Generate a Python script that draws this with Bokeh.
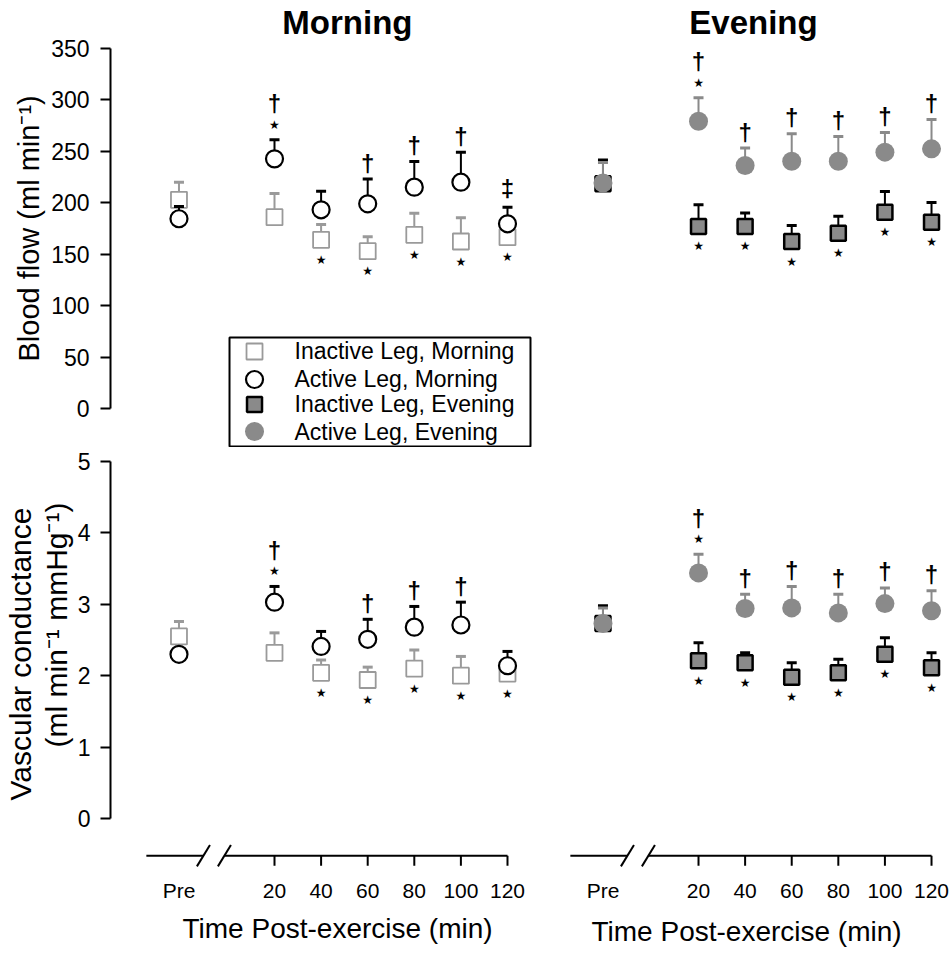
from bokeh.plotting import figure
from bokeh.models import Range1d, LinearAxis, FixedTicker, Label, Title, ColumnDataSource
from bokeh.layouts import column, row
from bokeh.embed import file_html
from bokeh.resources import INLINE
from bokeh.core.properties import value

# ---------------- data ----------------
time_labels = ["Pre", "20", "40", "60", "80", "100", "120"]
time_pos = [-21, 20, 40, 60, 80, 100, 120]

# Blood flow (ml min-1): mean and SE
bf_inactive_morning = [202.7, 185.8, 163.8, 152.8, 168.7, 162.2, 166.4]
bf_inactive_morning_se = [17, 23, 15, 14, 21, 23, 12]
bf_active_morning = [184.3, 242.5, 193.0, 198.8, 215.0, 219.8, 179.4]
bf_active_morning_se = [12, 18.5, 18, 24, 25, 29, 16]
bf_inactive_evening = [218.3, 176.8, 176.8, 162.2, 170.3, 190.7, 181.0]
bf_inactive_evening_se = [23, 21, 13, 15.6, 16.5, 20, 19]
bf_active_evening = [219.0, 279.1, 236.0, 240.2, 240.2, 249.0, 252.2]
bf_active_evening_se = [20, 22.7, 17, 26.6, 24, 19, 28.5]

# Vascular conductance (ml min-1 mmHg-1): mean and SE
vc_inactive_morning = [2.55, 2.32, 2.04, 1.94, 2.10, 2.00, 2.03]
vc_inactive_morning_se = [0.21, 0.28, 0.18, 0.18, 0.26, 0.27, 0.15]
vc_active_morning = [2.30, 3.03, 2.41, 2.51, 2.68, 2.71, 2.14]
vc_active_morning_se = [0.08, 0.22, 0.21, 0.28, 0.29, 0.32, 0.20]
vc_inactive_evening = [2.73, 2.21, 2.18, 1.98, 2.04, 2.30, 2.11]
vc_inactive_evening_se = [0.25, 0.25, 0.14, 0.20, 0.19, 0.23, 0.21]
vc_active_evening = [2.73, 3.44, 2.94, 2.95, 2.88, 3.01, 2.91]
vc_active_evening_se = [0.22, 0.26, 0.20, 0.30, 0.26, 0.22, 0.28]

# significance symbols (* vs Pre, dagger / double dagger vs inactive leg)
bf_active_morning_sig = ["", "*†", "", "†", "†", "†", "‡"]
bf_inactive_morning_sig = ["", "", "*", "*", "*", "*", "*"]
bf_active_evening_sig = ["", "*†", "†", "†", "†", "†", "†"]
bf_inactive_evening_sig = ["", "*", "*", "*", "*", "*", "*"]
vc_active_morning_sig = ["", "*†", "", "†", "†", "†", ""]
vc_inactive_morning_sig = ["", "", "*", "*", "*", "*", "*"]
vc_active_evening_sig = ["", "*†", "†", "†", "†", "†", "†"]
vc_inactive_evening_sig = ["", "*", "*", "*", "*", "*", "*"]

bf_ticks = [0, 50, 100, 150, 200, 250, 300, 350]
vc_ticks = [0, 1, 2, 3, 4, 5]

series_labels = ["Inactive Leg, Morning", "Active Leg, Morning",
                 "Inactive Leg, Evening", "Active Leg, Evening"]

# ---------------- style ----------------
BLACK = "#000000"
GREY = "#8a8a8a"
LIGHT = "#9a9a9a"
FONT = "Liberation Sans"

STYLE = {
    "inactive_morning": dict(marker="square", size=16, fill_color="white",
                             line_color=LIGHT, line_width=1.8),
    "active_morning": dict(marker="circle", size=17, fill_color="white",
                           line_color=BLACK, line_width=2.2),
    "inactive_evening": dict(marker="square", size=15, fill_color=GREY,
                             line_color=BLACK, line_width=2.5),
    "active_evening": dict(marker="circle", size=19, fill_color=GREY,
                           line_color=None, line_width=0),
}
ERR = {"inactive_morning": LIGHT, "active_morning": BLACK,
       "inactive_evening": BLACK, "active_evening": GREY}


def new_fig(w, h, xr, yr, bl, br, bt, bb):
    p = figure(width=w, height=h, x_range=Range1d(*xr), y_range=Range1d(*yr),
               toolbar_location=None, output_backend="svg",
               x_axis_location=None, y_axis_location=None,
               min_border_left=bl, min_border_right=br,
               min_border_top=bt, min_border_bottom=bb)
    p.grid.visible = False
    p.outline_line_color = None
    p.background_fill_color = "white"
    p.border_fill_color = "white"
    return p


XR_M = (-50.39, 132.02)
XR_E = (-49.96, 126.0)
YR_BF = (-37.88, 396.3)
YR_VC = (-0.70, 5.0)

tl = new_fig(535, 447, XR_M, YR_BF, 110, 0, 0, 0)
tr = new_fig(414, 447, XR_E, YR_BF, 0, 4, 0, 0)
bl = new_fig(535, 508, XR_M, YR_VC, 110, 0, 14, 87)
br = new_fig(414, 508, XR_E, YR_VC, 0, 4, 14, 87)


def draw_series(p, means, ses, key):
    tops = [m + s for m, s in zip(means, ses)]
    src = ColumnDataSource(dict(x=time_pos, y=means, top=tops))
    p.segment(x0="x", y0="y", x1="x", y1="top", source=src,
              line_color=ERR[key], line_width=2)
    p.scatter(x="x", y="top", source=src, marker="dash", size=10,
              line_color=ERR[key], line_width=3)
    return p.scatter(x="x", y="y", source=src, **STYLE[key])


STAR = dict(text_font=value("DejaVu Sans"), text_font_size="12px",
            text_align="center", text_baseline="middle", text_color=BLACK)
DAGGER = dict(text_font=value(FONT), text_font_size="24px", text_font_style="bold",
              text_align="center", text_baseline="middle", text_color=BLACK)


def draw_sig_above(p, means, ses, sig):
    xs_s, ys_s, xs_d, ys_d, txt_d, off_d = [], [], [], [], [], []
    for x, m, s, code in zip(time_pos, means, ses, sig):
        top = m + s
        star = "*" in code
        dag = code.replace("*", "")
        if star:
            xs_s.append(x); ys_s.append(top)
        if dag:
            xs_d.append(x); ys_d.append(top); txt_d.append(dag)
            off_d.append(-36 if star else (-19 if dag == "‡" else -16))
    if xs_s:
        p.text(x=xs_s, y=ys_s, text=["★"] * len(xs_s), y_offset=-15, **STAR)
    if xs_d:
        p.text(x=xs_d, y=ys_d, text=txt_d, y_offset=off_d, **DAGGER)


def draw_sig_below(p, means, sig):
    xs = [x for x, c in zip(time_pos, sig) if "*" in c]
    ys = [m for m, c in zip(means, sig) if "*" in c]
    if xs:
        p.text(x=xs, y=ys, text=["★"] * len(xs), y_offset=20, **STAR)


def panel(p, inm, inse, acm, acse, insig, acsig, when):
    draw_series(p, inm, inse, "inactive_" + when)
    draw_series(p, acm, acse, "active_" + when)
    draw_sig_below(p, inm, insig)
    draw_sig_above(p, acm, acse, acsig)


panel(tl, bf_inactive_morning, bf_inactive_morning_se, bf_active_morning,
      bf_active_morning_se, bf_inactive_morning_sig, bf_active_morning_sig, "morning")
panel(tr, bf_inactive_evening, bf_inactive_evening_se, bf_active_evening,
      bf_active_evening_se, bf_inactive_evening_sig, bf_active_evening_sig, "evening")
panel(bl, vc_inactive_morning, vc_inactive_morning_se, vc_active_morning,
      vc_active_morning_se, vc_inactive_morning_sig, vc_active_morning_sig, "morning")
panel(br, vc_inactive_evening, vc_inactive_evening_se, vc_active_evening,
      vc_active_evening_se, vc_inactive_evening_sig, vc_active_evening_sig, "evening")


# ---------------- y axes ----------------
def y_axis(bounds, ticks, label_standoff):
    return LinearAxis(bounds=bounds, ticker=FixedTicker(ticks=ticks),
                      axis_line_width=2, axis_line_color=BLACK,
                      major_tick_line_width=2, major_tick_line_color=BLACK,
                      major_tick_out=10, major_tick_in=0,
                      minor_tick_line_color=None,
                      major_label_standoff=label_standoff,
                      major_label_text_font=FONT,
                      major_label_text_font_size="23px",
                      major_label_text_color=BLACK)


def side_title(text, size, offset, standoff, align="left"):
    return Title(text=text, align=align, offset=offset, standoff=standoff,
                 text_font=FONT, text_font_size=size,
                 text_font_style="normal", text_color=BLACK)


tl.add_layout(y_axis((0, 350), bf_ticks, 11), "left")
tl.add_layout(side_title("Blood flow (ml min⁻¹)", "29px", 86, 7), "left")
bl.add_layout(y_axis((0, 5), vc_ticks, 10), "left")
bl.add_layout(side_title("(ml min⁻¹ mmHg⁻¹)", "30px", 121, 3), "left")
bl.add_layout(side_title("Vascular conductance", "30px", 68, 0), "left")

# ---------------- broken x axes ----------------
AXIS_Y = -0.52
TICK_LEN = 0.14
SLASH_DX = 2.8
SLASH_DY = 0.15
AXIS_START = -35
BREAKS = [-10.5, -1.5]


def x_axis(p, title_offset, title_standoff):
    p.segment(x0=[AXIS_START, BREAKS[1]], y0=[AXIS_Y, AXIS_Y],
              x1=[BREAKS[0], time_pos[-1]], y1=[AXIS_Y, AXIS_Y],
              line_color=BLACK, line_width=2)
    ticks = time_pos[1:]
    p.segment(x0=ticks, y0=[AXIS_Y] * len(ticks), x1=ticks,
              y1=[AXIS_Y - TICK_LEN] * len(ticks), line_color=BLACK, line_width=2)
    p.segment(x0=[b - SLASH_DX for b in BREAKS], y0=[AXIS_Y - SLASH_DY] * 2,
              x1=[b + SLASH_DX for b in BREAKS], y1=[AXIS_Y + SLASH_DY] * 2,
              line_color=BLACK, line_width=2)
    ax = LinearAxis(ticker=FixedTicker(ticks=time_pos),
                    major_label_overrides={pos: lab for pos, lab in zip(time_pos, time_labels)},
                    axis_line_color=None, major_tick_line_color=None,
                    minor_tick_line_color=None, major_tick_out=0, major_tick_in=0,
                    major_label_standoff=10, major_label_text_font=FONT,
                    major_label_text_font_size="21px", major_label_text_color=BLACK)
    p.add_layout(ax, "below")
    p.add_layout(side_title("Time Post-exercise (min)", "28px",
                            title_offset, title_standoff), "below")


x_axis(bl, 72, 13)
x_axis(br, 56, 18)

# ---------------- panel titles ----------------
tl.add_layout(Label(x=51.3, y=375, text="Morning", text_font=FONT,
                    text_font_size="33px", text_font_style="bold",
                    text_align="center", text_baseline="alphabetic", text_color=BLACK))
tr.add_layout(Label(x=43.6, y=375, text="Evening", text_font=FONT,
                    text_font_size="33px", text_font_style="bold",
                    text_align="center", text_baseline="alphabetic", text_color=BLACK))

# ---------------- legend (box drawn in the upper-left panel) ----------------
LEG_BOX = dict(left=0.69, right=129.87, bottom=-36.9, top=68.97)
LEG_MARK_X = 11.42
LEG_TEXT_X = 28.58
LEG_ROWS = [55.37, 28.17, 3.89, -22.34]

tl.quad(**LEG_BOX, fill_color="white", line_color=BLACK, line_width=2)
for key, yrow in zip(["inactive_morning", "active_morning",
                      "inactive_evening", "active_evening"], LEG_ROWS):
    tl.scatter(x=[LEG_MARK_X], y=[yrow], **STYLE[key])
tl.text(x=[LEG_TEXT_X] * 4, y=LEG_ROWS, text=series_labels,
        text_font=value(FONT), text_font_size="23px", text_color=BLACK,
        text_align="left", text_baseline="middle")

layout = column(row(tl, tr), row(bl, br))
open("out.html", "w").write(file_html(layout, INLINE))
